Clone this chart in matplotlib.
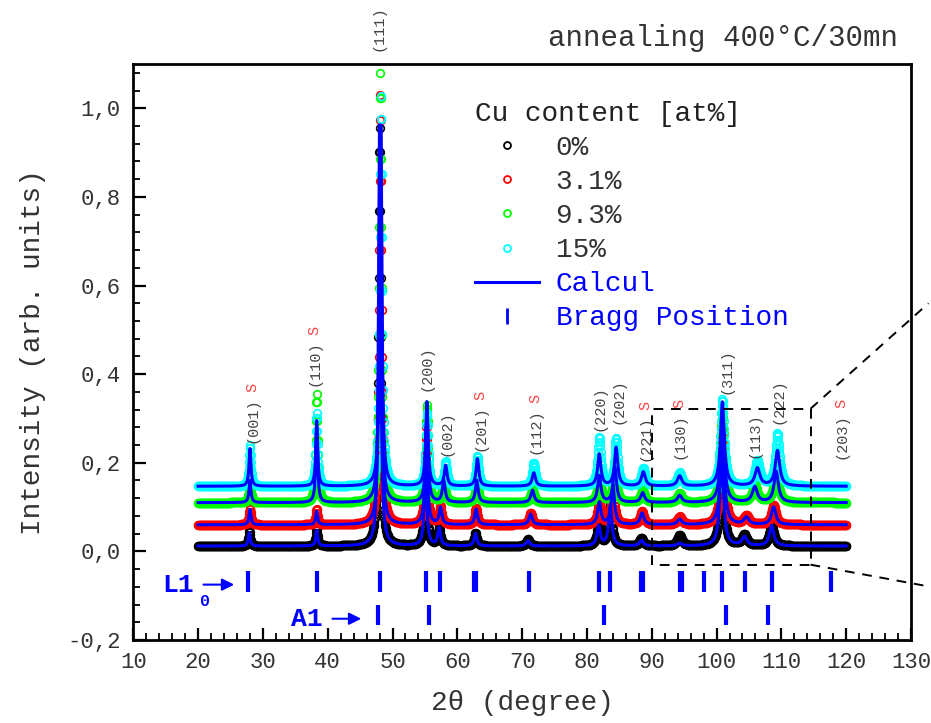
import numpy as np
import matplotlib
matplotlib.use('Agg')
from matplotlib import pyplot as plt
from matplotlib.lines import Line2D
from matplotlib.ticker import MultipleLocator, FuncFormatter

plt.rcParams['font.family'] = ['Liberation Mono', 'DejaVu Sans Mono']

# ---- data ----
series_names = ['0%', '3.1%', '9.3%', '15%']
series_colors = ['#000000', '#ff0000', '#00ff00', '#00ffff']
baselines = [0.012, 0.060, 0.110, 0.147]

reflections = ['(001)', '(110)', '(111)', '(200)', '(002)', '(201)', '(112)',
               '(220)', '(202)', '(221)', '(130)', '(311)', '(113)', '(222)']
fwhm = [0.35, 0.35, 0.40, 0.45, 0.5, 0.5, 0.6, 0.6, 0.6, 0.7, 0.8, 0.7, 0.9, 0.8]

pos_0 = [27.9, 38.3, 48.0, 55.1, 57.2, 62.8, 70.9, 81.8, 83.6, 88.4, 94.3, 100.8, 104.3, 108.5]
pos_31 = [28.0, 38.3, 48.1, 55.2, 57.4, 62.9, 71.3, 81.9, 84.0, 88.5, 94.3, 100.9, 104.6, 108.8]
pos_93 = [28.0, 38.3, 48.1, 55.3, 57.9, 63.0, 71.6, 81.9, 84.3, 88.6, 94.3, 100.9, 105.9, 109.2]
pos_15 = [28.0, 38.3, 48.2, 55.3, 58.2, 63.1, 71.8, 81.9, 84.5, 88.7, 94.3, 100.9, 106.3, 109.4]

calc_0 = [0.030, 0.035, 0.950, 0.190, 0.040, 0.028, 0.012, 0.045, 0.090, 0.012, 0.006, 0.200, 0.020, 0.046]
calc_31 = [0.035, 0.030, 0.900, 0.220, 0.038, 0.035, 0.024, 0.050, 0.090, 0.026, 0.012, 0.220, 0.016, 0.040]
calc_93 = [0.050, 0.170, 0.850, 0.210, 0.050, 0.050, 0.028, 0.060, 0.080, 0.022, 0.016, 0.200, 0.035, 0.070]
calc_15 = [0.085, 0.148, 0.815, 0.190, 0.046, 0.062, 0.030, 0.072, 0.087, 0.032, 0.023, 0.190, 0.040, 0.080]

obs_0 = [0.033, 0.038, 0.944, 0.200, 0.042, 0.030, 0.015, 0.050, 0.095, 0.018, 0.025, 0.205, 0.025, 0.050]
obs_31 = [0.038, 0.035, 0.970, 0.230, 0.040, 0.038, 0.026, 0.055, 0.095, 0.030, 0.018, 0.225, 0.020, 0.045]
obs_93 = [0.055, 0.245, 0.970, 0.220, 0.055, 0.055, 0.032, 0.070, 0.090, 0.028, 0.020, 0.205, 0.040, 0.080]
obs_15 = [0.093, 0.165, 0.880, 0.165, 0.055, 0.068, 0.053, 0.110, 0.108, 0.040, 0.030, 0.195, 0.057, 0.118]

positions = [pos_0, pos_31, pos_93, pos_15]
calc_heights = [calc_0, calc_31, calc_93, calc_15]
obs_heights = [obs_0, obs_31, obs_93, obs_15]

# peak labels: text, x, y of lower end, superstructure flag
label_text = ['(001)', '(110)', '(111)', '(200)', '(002)', '(201)', '(112)',
              '(220)', '(202)', '(221)', '(130)', '(311)', '(113)', '(222)', '(203)']
label_x = [28.4, 37.9, 47.8, 55.3, 58.4, 63.5, 72.0, 82.0, 84.8, 89.0, 94.3, 101.5, 105.9, 109.6, 119.2]
label_y = [0.245, 0.374, 1.129, 0.363, 0.215, 0.227, 0.220, 0.272, 0.288, 0.204, 0.209, 0.356, 0.211, 0.288, 0.209]
label_s = [True, True, False, False, False, True, True, False, False, True, True, False, False, False, True]

bragg_L10 = [27.7, 38.3, 48.0, 55.1, 57.3, 62.6, 62.9, 71.0, 81.8, 83.6, 88.3, 88.6,
             94.3, 94.7, 98.1, 100.9, 104.4, 108.6, 117.6]
bragg_A1 = [47.7, 55.6, 82.7, 101.5, 108.0]


def profile(x, pos, hts, base):
    y = np.full_like(x, base)
    for p, h, w in zip(pos, hts, fwhm):
        y += h / (1 + ((x - p) / (w / 2)) ** 2)
    return y


fig = plt.figure(figsize=(9.31, 7.23), dpi=100)
ax = fig.add_axes([133.3 / 931, 1 - 640 / 723, (911 - 133.3) / 931, (640 - 64) / 723])

x_obs = np.arange(20, 120.001, 0.05)
x_calc = np.arange(20, 120.001, 0.01)

for i in range(4):
    ax.plot(x_obs, profile(x_obs, positions[i], obs_heights[i], baselines[i]),
            ls='none', marker='o', ms=5.5, mfc='none', mec=series_colors[i], mew=1.2, zorder=2)
for i in range(4):
    ax.plot(x_calc, profile(x_calc, positions[i], calc_heights[i], baselines[i]),
            color='#0000ff', lw=2.2, zorder=3)

# Bragg positions
ax.vlines(bragg_L10, -0.091, -0.045, color='#0000ff', lw=3)
ax.vlines(bragg_A1, -0.166, -0.120, color='#0000ff', lw=3)
ax.text(16.9, -0.075, 'L1', color='#0000ff', fontsize=19, fontweight='bold', ha='center', va='center')
ax.text(21.0, -0.113, '0', color='#0000ff', fontsize=12, fontweight='bold', ha='center', va='center')
ax.annotate('', xy=(26.0, -0.075), xytext=(20.4, -0.075),
            arrowprops=dict(arrowstyle='-|>', color='#0000ff', lw=1.5, mutation_scale=18))
ax.text(36.8, -0.152, 'A1', color='#0000ff', fontsize=19, fontweight='bold', ha='center', va='center')
ax.annotate('', xy=(45.6, -0.152), xytext=(40.3, -0.152),
            arrowprops=dict(arrowstyle='-|>', color='#0000ff', lw=1.5, mutation_scale=18))

# peak labels, red S just above the superstructure ones
for t, lx, ly, s in zip(label_text, label_x, label_y, label_s):
    ax.text(lx, ly, t, rotation=90, ha='center', va='bottom', fontsize=11, color='#444444')
    if s:
        ax.text(lx, ly + 0.114, 'S', rotation=90, ha='center', va='bottom',
                fontsize=11, color='#ff4040')

# zoom box
box_x = [90, 90, 114.5, 114.5, 90]
box_y = [-0.03, 0.322, 0.322, -0.03, -0.03]
ax.plot(box_x, box_y, color='black', ls=(0, (5, 4)), lw=1.4, zorder=4)
ax.plot([114.5, 132.7], [0.322, 0.56], color='black', ls=(0, (5, 4)), lw=1.4, clip_on=False)
ax.plot([114.5, 132.7], [-0.03, -0.079], color='black', ls=(0, (5, 4)), lw=1.4, clip_on=False)

ax.set_xlim(10, 130)
ax.set_ylim(-0.2, 1.1)
ax.xaxis.set_major_locator(MultipleLocator(10))
ax.xaxis.set_minor_locator(MultipleLocator(2))
ax.yaxis.set_major_locator(MultipleLocator(0.2))
ax.yaxis.set_minor_locator(MultipleLocator(0.04))
ax.yaxis.set_major_formatter(FuncFormatter(lambda v, p: f'{v:.1f}'.replace('.', ',')))
ax.tick_params(which='both', direction='in', top=False, right=False, colors='black',
               labelcolor='#333333', labelsize=16)
ax.tick_params(which='major', length=9, width=1.6, pad=9)
ax.tick_params(which='minor', length=5, width=1.3)
for sp in ax.spines.values():
    sp.set_linewidth(2)

ax.set_xlabel('2θ (degree)', fontsize=20, color='#333333', labelpad=12)
ax.set_ylabel('Intensity (arb. units)', fontsize=20, color='#333333', labelpad=15)

fig.text(898 / 931, 1 - 38 / 723, 'annealing 400°C/30mn', fontsize=21, color='#333333',
         ha='right', va='center')

# legend
handles = [Line2D([], [], ls='none', marker='o', ms=5, mfc='none', mec=c, mew=1.3)
           for c in series_colors]
handles.append(Line2D([], [], color='#0000ff', lw=2.2))
handles.append(Line2D([], [], ls='none', marker='|', ms=11, mew=2, color='#0000ff'))
labels = series_names + ['Calcul', 'Bragg Position']
leg = ax.legend(handles, labels, title='Cu content [at%]', loc='upper left',
                bbox_to_anchor=(475 / 931, 1 - 101 / 723), bbox_transform=fig.transFigure,
                frameon=False, fontsize=20, title_fontsize=20, handlelength=2.3,
                handletextpad=0.6, labelspacing=0.29, borderpad=0, borderaxespad=0,
                alignment='left')
leg.get_title().set_color('#222222')
for t, c in zip(leg.get_texts(), ['#333333'] * 4 + ['#0000ff', '#0000ff']):
    t.set_color(c)

fig.savefig('out.png', dpi=100)
